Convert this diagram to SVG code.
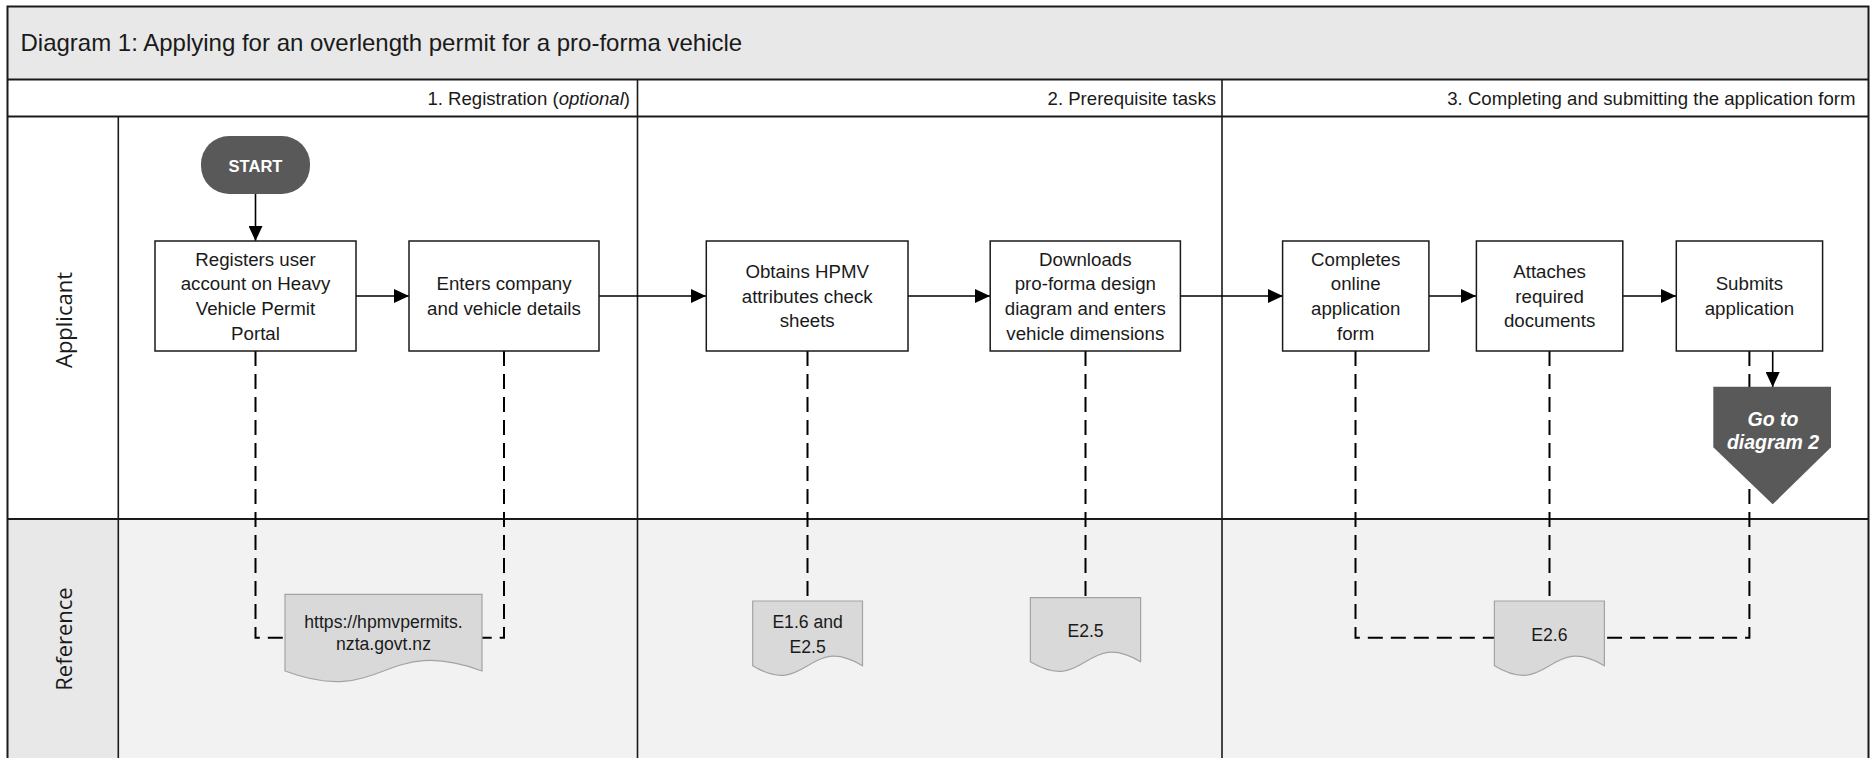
<svg xmlns="http://www.w3.org/2000/svg" width="1871" height="758" viewBox="0 0 1871 758">
<style>
.line{stroke:#1a1a1a;stroke-width:2;fill:none}
.div{stroke:#1a1a1a;stroke-width:1.6;fill:none}
.box{fill:#ffffff;stroke:#1a1a1a;stroke-width:1.5}
.doc{fill:#d9d9d9;stroke:#a3a3a3;stroke-width:1.2}
.dark{fill:#595959;stroke:none}
.t{font-family:'Liberation Sans',Arial,sans-serif;font-size:18.7px;fill:#1a1a1a;text-anchor:middle}
.dt{font-family:'Liberation Sans',Arial,sans-serif;font-size:17.6px;fill:#1a1a1a;text-anchor:middle}
.ph{font-family:'Liberation Sans',Arial,sans-serif;font-size:18.6px;fill:#1a1a1a;text-anchor:end}
.title{font-family:'Liberation Sans',Arial,sans-serif;font-size:24px;fill:#1a1a1a}
.lbl{font-family:'Open Sans','DejaVu Sans',sans-serif;font-size:22px;fill:#1a1a1a;text-anchor:middle}
.wt{font-family:'Liberation Sans',Arial,sans-serif;fill:#ffffff;text-anchor:middle;font-weight:bold}
.flow{stroke:#000;stroke-width:1.6;fill:none;marker-end:url(#arr)}
.ref{stroke:#000;stroke-width:2;fill:none;stroke-dasharray:15 8}
</style>
<defs>
<marker id="arr" markerUnits="userSpaceOnUse" viewBox="0 0 15 14" refX="15" refY="7" markerWidth="15" markerHeight="14" orient="auto">
<path d="M0,0 L15,7 L0,14 Z" fill="#000"/>
</marker>
</defs>

<g id="pool">
<rect x="0" y="0" width="1871" height="758" fill="#ffffff"/>
<rect x="7.5" y="6.5" width="1861" height="73" fill="#e8e8e8"/>
<rect x="7.5" y="519" width="1861" height="245" fill="#f2f2f2"/>
<rect x="7.5" y="519" width="111" height="245" fill="#e8e8e8"/>
<rect x="7.5" y="6.5" width="1861" height="760" class="line"/>
<line x1="7.5" y1="79.5" x2="1868.5" y2="79.5" class="line"/>
<line x1="7.5" y1="116.5" x2="1868.5" y2="116.5" class="line"/>
<line x1="7.5" y1="519" x2="1868.5" y2="519" class="line"/>
<line x1="118.3" y1="116.5" x2="118.3" y2="760" class="div"/>
<line x1="637.5" y1="79.5" x2="637.5" y2="760" class="div"/>
<line x1="1222" y1="79.5" x2="1222" y2="760" class="div"/>
<text class="title" x="20.5" y="50.5">Diagram 1: Applying for an overlength permit for a pro-forma vehicle</text>
<text class="ph" x="630" y="105">1. Registration (<tspan font-style="italic">optional</tspan>)</text>
<text class="ph" x="1216" y="105">2. Prerequisite tasks</text>
<text class="ph" x="1855.5" y="105">3. Completing and submitting the application form</text>
<text class="lbl" transform="translate(71.5,320) rotate(-90)">Applicant</text>
<text class="lbl" transform="translate(71.5,639) rotate(-90)">Reference</text>
</g>

<g id="connectors">
<line class="flow" x1="255.5" y1="194" x2="255.5" y2="241"/>
<line class="flow" x1="356" y1="296" x2="409" y2="296"/>
<line class="flow" x1="599" y1="296" x2="706" y2="296"/>
<line class="flow" x1="908" y1="296" x2="990" y2="296"/>
<line class="flow" x1="1180" y1="296" x2="1283" y2="296"/>
<line class="flow" x1="1429" y1="296" x2="1476" y2="296"/>
<line class="flow" x1="1623" y1="296" x2="1676" y2="296"/>
<line class="flow" x1="1772.7" y1="351" x2="1772.7" y2="387"/>
<polyline class="ref" points="255.5,351 255.5,637.7 285,637.7"/>
<polyline class="ref" points="504,351 504,637.7 482,637.7"/>
<polyline class="ref" points="807.5,351 807.5,601"/>
<polyline class="ref" points="1085.5,351 1085.5,597.7"/>
<polyline class="ref" points="1355.5,351 1355.5,637.7 1494.4,637.7"/>
<polyline class="ref" points="1549.5,351 1549.5,601"/>
<polyline class="ref" points="1749.4,351 1749.4,637.7 1604.4,637.7"/>
</g>

<g id="start">
<rect class="dark" x="201" y="136" width="109" height="58" rx="28" ry="28"/>
<text class="wt" x="255.5" y="171.5" font-size="16.5">START</text>
</g>

<g id="n1">
<rect class="box" x="155" y="241" width="201" height="110"/>
<text class="t"><tspan x="255.5" y="265.5">Registers user</tspan><tspan x="255.5" y="290.2">account on Heavy</tspan><tspan x="255.5" y="314.8">Vehicle Permit</tspan><tspan x="255.5" y="339.5">Portal</tspan></text>
</g>

<g id="n2">
<rect class="box" x="409" y="241" width="190" height="110"/>
<text class="t"><tspan x="504" y="290.2">Enters company</tspan><tspan x="504" y="314.9">and vehicle details</tspan></text>
</g>

<g id="n3">
<rect class="box" x="706.3" y="241" width="201.7" height="110"/>
<text class="t"><tspan x="807.2" y="277.8">Obtains HPMV</tspan><tspan x="807.2" y="302.5">attributes check</tspan><tspan x="807.2" y="327.2">sheets</tspan></text>
</g>

<g id="n4">
<rect class="box" x="990.2" y="241" width="190.2" height="110"/>
<text class="t"><tspan x="1085.3" y="265.5">Downloads</tspan><tspan x="1085.3" y="290.2">pro-forma design</tspan><tspan x="1085.3" y="314.8">diagram and enters</tspan><tspan x="1085.3" y="339.5">vehicle dimensions</tspan></text>
</g>

<g id="n5">
<rect class="box" x="1282.6" y="241" width="146.3" height="110"/>
<text class="t"><tspan x="1355.7" y="265.5">Completes</tspan><tspan x="1355.7" y="290.2">online</tspan><tspan x="1355.7" y="314.8">application</tspan><tspan x="1355.7" y="339.5">form</tspan></text>
</g>

<g id="n6">
<rect class="box" x="1476.4" y="241" width="146.4" height="110"/>
<text class="t"><tspan x="1549.6" y="277.8">Attaches</tspan><tspan x="1549.6" y="302.5">required</tspan><tspan x="1549.6" y="327.2">documents</tspan></text>
</g>

<g id="n7">
<rect class="box" x="1676.3" y="241" width="146.3" height="110"/>
<text class="t"><tspan x="1749.4" y="290.2">Submits</tspan><tspan x="1749.4" y="314.9">application</tspan></text>
</g>

<g id="goto">
<polygon class="dark" points="1713.3,386.7 1831,386.7 1831,447.3 1772.7,504.3 1713.3,447.3"/>
<text class="wt" font-style="italic" font-size="19.5"><tspan x="1773" y="425.5">Go to</tspan><tspan x="1773" y="449.3">diagram 2</tspan></text>
</g>

<g id="doc1">
<path class="doc" d="M285,594.3 H482 V671 C383.5,634.25 383.5,707.75 285,671 Z"/>
<text class="dt"><tspan x="383.5" y="628.3">https://hpmvpermits.</tspan><tspan x="383.5" y="649.8">nzta.govt.nz</tspan></text>
</g>

<g id="doc2">
<path class="doc" d="M752.7,601 H862.5 V665.7 C807.6,632.45 807.6,698.95 752.7,665.7 Z"/>
<text class="dt"><tspan x="807.6" y="628.3">E1.6 and</tspan><tspan x="807.6" y="653">E2.5</tspan></text>
</g>

<g id="doc3">
<path class="doc" d="M1030.4,597.7 H1140.6 V661.7 C1085.5,628.45 1085.5,694.95 1030.4,661.7 Z"/>
<text class="dt" x="1085.5" y="637">E2.5</text>
</g>

<g id="doc4">
<path class="doc" d="M1494.4,601 H1604.4 V665.7 C1549.4,632.45 1549.4,698.95 1494.4,665.7 Z"/>
<text class="dt" x="1549.4" y="640.5">E2.6</text>
</g>
</svg>
